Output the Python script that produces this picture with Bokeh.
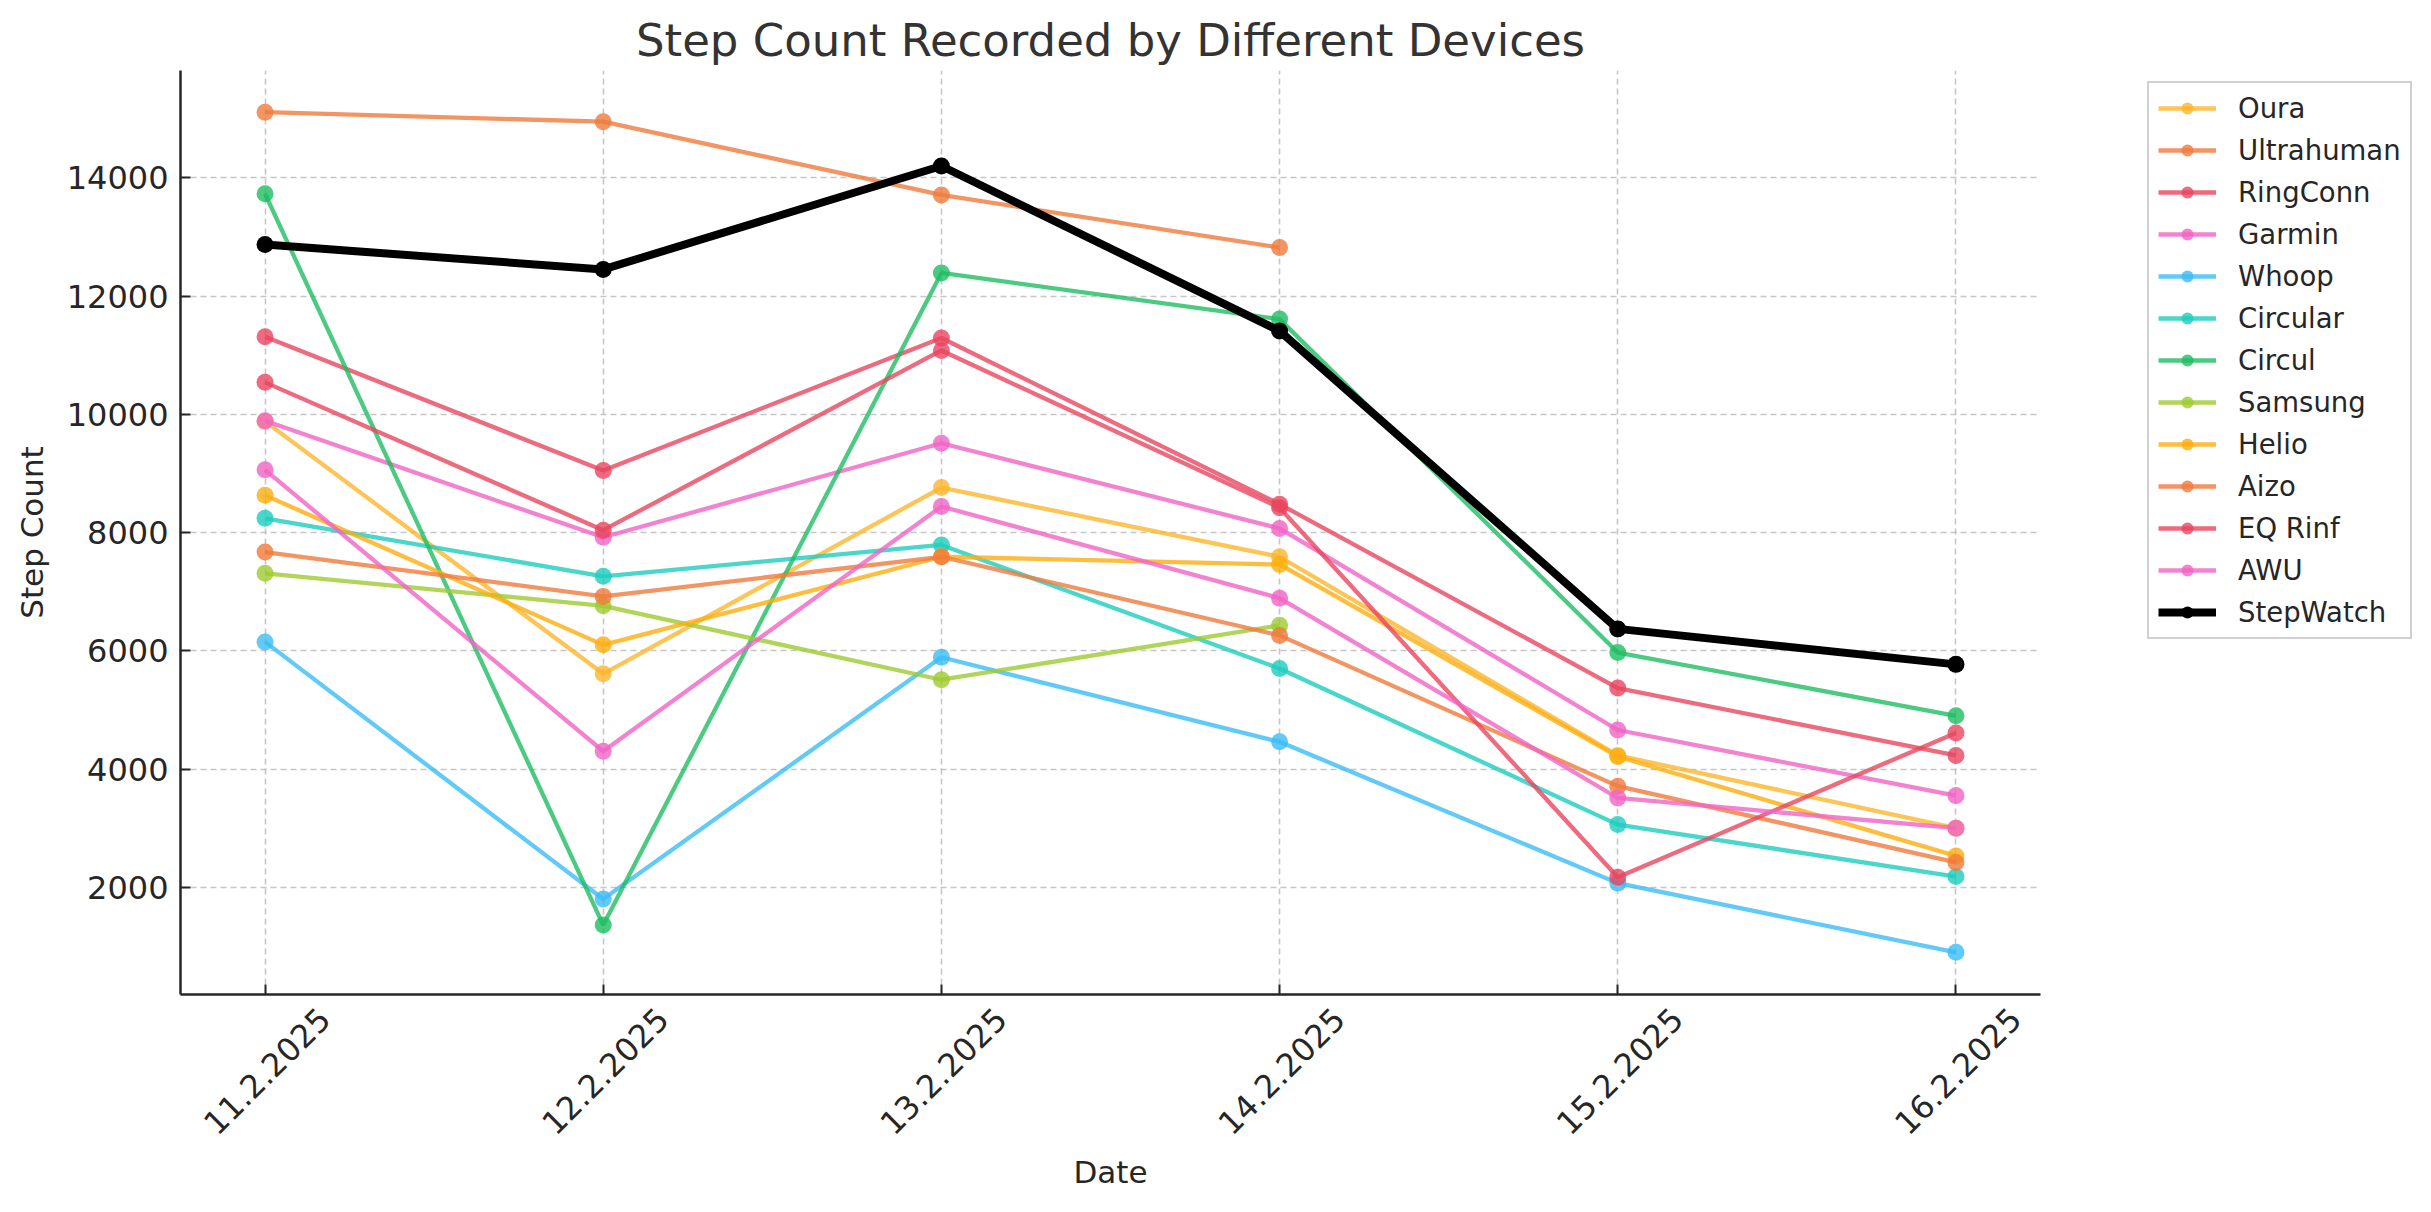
import math
from bokeh.plotting import figure
from bokeh.models import Range1d, FixedTicker, Legend, LegendItem
from bokeh.embed import file_html
from bokeh.resources import INLINE

NaN = float("nan")

dates = ["11.2.2025", "12.2.2025", "13.2.2025", "14.2.2025", "15.2.2025", "16.2.2025"]
y_ticks = [2000, 4000, 6000, 8000, 10000, 12000, 14000]

devices = ["Oura", "Ultrahuman", "RingConn", "Garmin", "Whoop", "Circular", "Circul",
           "Samsung", "Helio", "Aizo", "EQ Rinf", "AWU", "StepWatch"]

oura = [9880, 5610, 8760, 7590, 4230, 3000]
ultrahuman = [15110, 14950, 13710, 12820, NaN, NaN]
ringconn = [11310, 9050, 11290, 8480, 5370, 4230]
garmin = [9890, 7920, 9510, 8070, 4660, 3550]
whoop = [6150, 1800, 5890, 4460, 2070, 900]
circular = [8240, 7260, 7790, 5700, 3060, 2180]
circul = [13730, 1360, 12390, 11610, 5970, 4900]
samsung = [7310, 6760, 5510, 6430, NaN, NaN]
helio = [8630, 6100, 7590, 7460, 4210, 2530]
aizo = [7670, 6920, 7590, 6260, 3710, 2420]
eq_rinf = [10540, 8040, 11080, 8420, 2170, 4610]
awu = [9060, 4300, 8440, 6890, 3510, 3000]
stepwatch = [12870, 12450, 14200, 11410, 6370, 5770]

values = [oura, ultrahuman, ringconn, garmin, whoop, circular, circul,
          samsung, helio, aizo, eq_rinf, awu, stepwatch]
colors = ["#FDB52C", "#F07B3C", "#E8455F", "#F064C4", "#3BBDF5", "#1DCDBE", "#1EBD62",
          "#9DCB30", "#FDAE10", "#F07B3C", "#E8455F", "#F064C4", "#000000"]

FONT = "DejaVu Sans"
TXT = "#262626"

x = list(range(len(dates)))

p = figure(frame_width=1860, frame_height=924, output_backend="svg", toolbar_location=None,
           x_range=Range1d(-0.25, 5.25), y_range=Range1d(186, 15815),
           min_border_left=180, min_border_right=383, min_border_top=70, min_border_bottom=210,
           background_fill_color="white", border_fill_color="white")
p.outline_line_color = None

# title
p.title.text = "Step Count Recorded by Different Devices"
p.title.align = "center"
p.title.text_font = FONT
p.title.text_font_size = "45px"
p.title.text_font_style = "normal"
p.title.text_color = "#333333"
p.title.standoff = 8

# grids
for g, t in ((p.xgrid, x), (p.ygrid, y_ticks)):
    g.ticker = FixedTicker(ticks=t)
    g.grid_line_color = "#b8b8b8"
    g.grid_line_alpha = 0.8
    g.grid_line_dash = "6 4"
    g.grid_line_width = 1.6

# x axis: labels shifted so that rotated labels are centered on ticks
shift = 0.176
label_pos = [i + shift for i in x]
xa = p.xaxis[0]
xa.ticker = FixedTicker(ticks=label_pos, minor_ticks=x)
xa.major_label_overrides = {pos: d for pos, d in zip(label_pos, dates)}
xa.major_label_orientation = math.pi / 4
xa.major_tick_in = 0
xa.major_tick_out = 0
xa.minor_tick_in = 10
xa.minor_tick_out = 0
xa.minor_tick_line_color = TXT
xa.minor_tick_line_width = 2
xa.major_label_standoff = 19
xa.axis_label = "Date"
xa.axis_label_standoff = 6

ya = p.yaxis[0]
ya.ticker = FixedTicker(ticks=y_ticks)
ya.major_tick_in = 10
ya.major_tick_out = 0
ya.minor_tick_line_color = None
ya.major_label_standoff = 12
ya.axis_label = "Step Count"
ya.axis_label_standoff = 14

for ax in (xa, ya):
    ax.axis_line_color = TXT
    ax.axis_line_width = 2.5
    ax.major_tick_line_color = TXT
    ax.major_tick_line_width = 2
    ax.major_label_text_font = FONT
    ax.major_label_text_font_size = "32px"
    ax.major_label_text_color = TXT
    ax.axis_label_text_font = FONT
    ax.axis_label_text_font_size = "31px"
    ax.axis_label_text_font_style = "normal"
    ax.axis_label_text_color = TXT

items = []
for name, vals, col in zip(devices, values, colors):
    if name == "StepWatch":
        r1 = p.line(x, vals, line_color=col, line_width=8)
        r2 = p.scatter(x, vals, size=17, fill_color=col, line_color=None)
    else:
        r1 = p.line(x, vals, line_color=col, line_width=4.3, line_alpha=0.8)
        r2 = p.scatter(x, vals, size=17, fill_color=col, fill_alpha=0.8, line_color=None)
    items.append(LegendItem(label=name, renderers=[r1, r2]))

legend = Legend(items=items, location=(107, 355), orientation="vertical",
                label_text_font=FONT, label_text_font_size="27.5px", label_text_color=TXT,
                glyph_width=58, glyph_height=30, label_height=30, label_standoff=22,
                spacing=10, padding=9, margin=59,
                border_line_color="#d0d0d0", border_line_width=2, border_line_alpha=1.0,
                background_fill_color="white", background_fill_alpha=1.0)
p.add_layout(legend, "right")

open("out.html", "w").write(file_html(p, INLINE))
